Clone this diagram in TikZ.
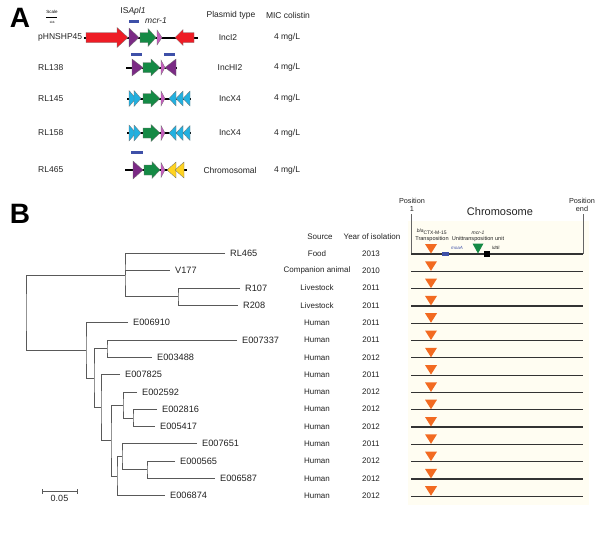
\documentclass[tikz,border=0pt]{standalone}
\usepackage{fontspec}
\setmainfont{Liberation Sans}
\newcommand\myfs[1]{\fontsize{#1}{#1}\selectfont}
\definecolor{gred}{HTML}{EE1C25}
\definecolor{gpurple}{HTML}{7B2A85}
\definecolor{ggreen}{HTML}{158A45}
\definecolor{gpink}{HTML}{C65BBE}
\definecolor{gcyan}{HTML}{22B0E0}
\definecolor{gyellow}{HTML}{FFD320}
\definecolor{gbar}{HTML}{3E50A8}
\definecolor{gorange}{HTML}{F26A21}
\definecolor{cream}{HTML}{FFFDF2}
\definecolor{txt}{HTML}{222222}
\newcommand\rarr[7]{\filldraw[gene,fill=#7] (#1,#4-#5) -- (#2,#4-#5) -- (#2,#4-#6) -- (#3,#4) -- (#2,#4+#6) -- (#2,#4+#5) -- (#1,#4+#5) -- cycle;}
\newcommand\larr[7]{\filldraw[gene,fill=#7] (#3,#4-#5) -- (#2,#4-#5) -- (#2,#4-#6) -- (#1,#4) -- (#2,#4+#6) -- (#2,#4+#5) -- (#3,#4+#5) -- cycle;}
\newcommand\rtri[5]{\filldraw[gene,fill=#5] (#1,#3-#4) -- (#2,#3) -- (#1,#3+#4) -- cycle;}
\newcommand\ltri[5]{\filldraw[gene,fill=#5] (#2,#3-#4) -- (#1,#3) -- (#2,#3+#4) -- cycle;}
\begin{document}
\begin{tikzpicture}[x=1pt,y=-1pt,
  gene/.style={draw=black!55,line width=0.3pt},
  bb/.style={line width=2pt,black},
  bar/.style={fill=gbar},
  lblA/.style={font=\myfs{8.5},text=txt,inner sep=0pt},
  tree/.style={draw=black!65,line width=0.7pt},
  leaf/.style={font=\myfs{9.2},text=txt,anchor=west,inner xsep=5pt,inner ysep=0pt},
  lblB/.style={font=\myfs{8},text=txt,inner sep=0pt},
  rowline/.style={line width=1.2pt,black!80},
  otri/.style={fill=gorange},
  tiny/.style={font=\myfs{5.6},text=txt,inner sep=0pt}]
\useasboundingbox (0,0) rectangle (600,538);
% ---------------- Panel A ----------------
\node[font=\bfseries\myfs{28},inner sep=0pt] (labA) at (20,18) {A};
\node[font=\myfs{4.5},inner sep=0pt] (scaleT) at (52,12) {Scale};
\draw[line width=1.8pt] (46,17.5) -- (57,17.5);
\node[font=\myfs{3},inner sep=0pt] (kb) at (52,22) {1kb};
\node[lblA] (isapl) at (133,11) {IS\textit{Apl1}};
\node[lblA] (mcrA) at (156,20.5) {\textit{mcr-1}};
\node[lblA] (hPT) at (231,15) {Plasmid type};
\node[lblA] (hMIC) at (288,15) {MIC colistin};
% row 1
\node[lblA,anchor=west] (n1) at (38,37.5) {pHNSHP45};
\draw[bb] (84,37.5) -- (198,37.5);
\fill[bar] (129,19.5) rectangle (139,22.5);
\rarr{86}{117}{128}{37.5}{5}{10}{gred}
\rtri{129}{139}{37.5}{9.5}{gpurple}
\rarr{140}{148}{156}{37.5}{5}{9}{ggreen}
\rtri{157}{162}{37.5}{7.5}{gpink}
\larr{175}{183}{194}{37.5}{5}{8}{gred}
\node[lblA] (p1) at (228,37.5) {IncI2};
\node[lblA] (m1) at (287,37.5) {4 mg/L};
% row 2
\node[lblA,anchor=west] (n2) at (38,67.5) {RL138};
\draw[bb] (126,67.5) -- (177,67.5);
\fill[bar] (131,53) rectangle (142,56);
\fill[bar] (164,53) rectangle (175,56);
\rtri{132}{143}{67.5}{8.5}{gpurple}
\rarr{143}{151}{160}{67.5}{5}{8.5}{ggreen}
\rtri{161}{165}{67.5}{7.5}{gpink}
\ltri{165}{176}{67.5}{8.5}{gpurple}
\node[lblA] (p2) at (230,67.5) {IncHI2};
\node[lblA] (m2) at (287,67.5) {4 mg/L};
% row 3
\node[lblA,anchor=west] (n3) at (38,98.5) {RL145};
\draw[bb] (127,98.5) -- (191,98.5);
\rtri{129}{136}{98.5}{8}{gcyan}
\rtri{134}{141}{98.5}{8}{gcyan}
\rarr{143}{151}{160}{98.5}{5}{8.5}{ggreen}
\rtri{161}{165}{98.5}{7.5}{gpink}
\ltri{169}{176}{98.5}{7.5}{gcyan}
\ltri{176}{183}{98.5}{7.5}{gcyan}
\ltri{183}{190}{98.5}{7.5}{gcyan}
\node[lblA] (p3) at (230,98.5) {IncX4};
\node[lblA] (m3) at (287,98.5) {4 mg/L};
% row 4
\node[lblA,anchor=west] (n4) at (38,133) {RL158};
\draw[bb] (127,133) -- (191,133);
\rtri{129}{136}{133}{8}{gcyan}
\rtri{134}{141}{133}{8}{gcyan}
\rarr{143}{151}{160}{133}{5}{8.5}{ggreen}
\rtri{161}{165}{133}{7.5}{gpink}
\ltri{169}{176}{133}{7.5}{gcyan}
\ltri{176}{183}{133}{7.5}{gcyan}
\ltri{183}{190}{133}{7.5}{gcyan}
\node[lblA] (p4) at (230,133) {IncX4};
\node[lblA] (m4) at (287,133) {4 mg/L};
% row 5
\node[lblA,anchor=west] (n5) at (38,170) {RL465};
\draw[bb] (125,170) -- (187,170);
\fill[bar] (131,150.5) rectangle (143,153.5);
\rtri{133}{143}{170}{9}{gpurple}
\rarr{144}{152}{160}{170}{5}{8.5}{ggreen}
\rtri{161}{165}{170}{7.5}{gpink}
\ltri{167}{176}{170}{8}{gyellow}
\ltri{175}{184}{170}{8}{gyellow}
\node[lblA] (p5) at (230,170) {Chromosomal};
\node[lblA] (m5) at (287,170) {4 mg/L};
% ---------------- Panel B ----------------
\node[font=\bfseries\myfs{28},inner sep=0pt] (labB) at (20,214) {B};
\fill[cream] (408,221) rectangle (589,505);
\node[font=\myfs{7.3},align=center,text=txt,inner sep=0pt] (pos1) at (412,205) {Position\\1};
\node[font=\myfs{7.3},align=center,text=txt,inner sep=0pt] (posE) at (582,205) {Position\\end};
\node[font=\myfs{11},text=txt,inner sep=0pt] (chrom) at (500,212) {Chromosome};
\draw[black!60,line width=0.6pt] (411,214) -- (411,253.5);
\draw[black!60,line width=0.6pt] (583,214) -- (583,253.5);
\node[lblB] (hSrc) at (320,237) {Source};
\node[lblB] (hYr) at (372,237) {Year of isolation};
% rows
\foreach \i/\src/\yr in {0/Food/2013,1/Companion animal/2010,2/Livestock/2011,3/Livestock/2011,
  4/Human/2011,5/Human/2011,6/Human/2012,7/Human/2011,8/Human/2012,9/Human/2012,10/Human/2012,
  11/Human/2011,12/Human/2012,13/Human/2012,14/Human/2012}{
  \pgfmathsetmacro\yy{253.5+17.3*\i}
  \node[lblB] (src\i) at (317,\yy) {\src};
  \node[lblB] (yr\i) at (371,\yy) {\yr};
  \draw[rowline] (411,\yy+0.5) -- (583,\yy+0.5);
  \fill[otri] (425,\yy-9.5) -- (437,\yy-9.5) -- (431,\yy) -- cycle;
}
% top row features
\node[font=\myfs{5},text=txt,inner sep=0pt] (bla) at (432,232) {\textit{bla}\textsubscript{CTX-M-15}};
\node[tiny] (transp) at (432,239.5) {Transposition};
\node[font=\myfs{5},text=txt,inner sep=0pt] (mcrB) at (478,233) {\textit{mcr-1}};
\node[tiny] (unit) at (478,239.5) {Unittransposition unit};
\fill[ggreen] (472.5,243.5) -- (483.5,243.5) -- (478,253.5) -- cycle;
\fill[gbar] (442,251.5) rectangle (449,255.5);
\node[font=\myfs{4.5},text=gbar,inner sep=0pt,anchor=west] (moaA) at (451,248) {\textit{moaA}};
\fill[black] (484,251) rectangle (490,256.5);
\node[font=\myfs{4.5},text=txt,inner sep=0pt,anchor=west] (ldtE) at (492,247.5) {\textit{ldtE}};
% tree leaves
\node[leaf] (tRL465) at (225,253.5) {RL465};
\node[leaf] (tV177) at (170,270.8) {V177};
\node[leaf] (tR107) at (240,288.1) {R107};
\node[leaf] (tR208) at (238,305.4) {R208};
\node[leaf] (tE006910) at (128,322.7) {E006910};
\node[leaf] (tE007337) at (237,340) {E007337};
\node[leaf] (tE003488) at (152,357.3) {E003488};
\node[leaf] (tE007825) at (120,374.6) {E007825};
\node[leaf] (tE002592) at (137,391.9) {E002592};
\node[leaf] (tE002816) at (157,409.2) {E002816};
\node[leaf] (tE005417) at (155,426.5) {E005417};
\node[leaf] (tE007651) at (197,443.8) {E007651};
\node[leaf] (tE000565) at (175,461.1) {E000565};
\node[leaf] (tE006587) at (215,478.4) {E006587};
\node[leaf] (tE006874) at (165,495.7) {E006874};
% internal nodes
\coordinate (nB) at (178,296.75);
\coordinate (nA) at (125,275);
\coordinate (nL) at (147,469.75);
\coordinate (nK) at (122,456.8);
\coordinate (nI) at (117,476);
\coordinate (nJ) at (133,417.85);
\coordinate (nH) at (123,404.9);
\coordinate (nG) at (111,440);
\coordinate (nF) at (101,407);
\coordinate (nE) at (107,348.6);
\coordinate (nD) at (94,378);
\coordinate (nC) at (86,350);
\coordinate (nR) at (26,312);
\draw[tree] (tR107.west) -| (nB) |- (tR208.west);
\draw[tree] (tRL465.west) -| (nA) |- (nB);
\draw[tree] (nA) |- (tV177.west);
\draw[tree] (tE000565.west) -| (nL) |- (tE006587.west);
\draw[tree] (tE007651.west) -| (nK) |- (nL);
\draw[tree] (nK) -| (nI) |- (tE006874.west);
\draw[tree] (tE002816.west) -| (nJ) |- (tE005417.west);
\draw[tree] (tE002592.west) -| (nH) |- (nJ);
\draw[tree] (nH) -| (nG) |- (nI);
\draw[tree] (tE007825.west) -| (nF) |- (nG);
\draw[tree] (tE007337.west) -| (nE) |- (tE003488.west);
\draw[tree] (nE) -| (nD) |- (nF);
\draw[tree] (tE006910.west) -| (nC) |- (nD);
\draw[tree] (nA) -| (nR) |- (nC);
% scale bar
\coordinate (sb1) at (42,491);
\coordinate (sb2) at (77,491);
\draw[tree] (sb1) -- (sb2);
\draw[tree] ([yshift=-2.5pt]sb1) -- ([yshift=2.5pt]sb1);
\draw[tree] ([yshift=-2.5pt]sb2) -- ([yshift=2.5pt]sb2);
\node[font=\myfs{9},text=txt,inner sep=0pt] (sbl) at (59.5,498.5) {0.05};
\end{tikzpicture}
\end{document}
